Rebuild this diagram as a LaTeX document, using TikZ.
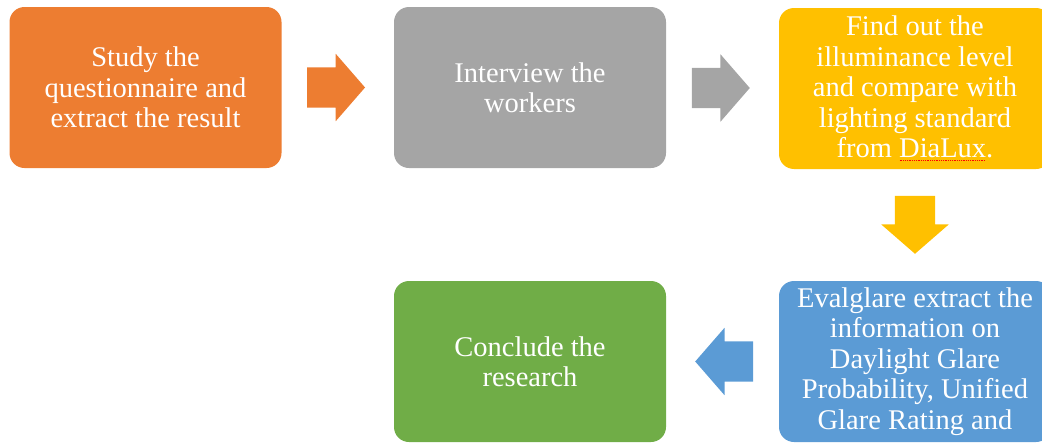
\documentclass[tikz,border=0pt]{standalone}
\usepackage{fontspec}
\setmainfont{Liberation Serif}
\usetikzlibrary{shapes.arrows,calc}
\definecolor{cOrange}{HTML}{ED7D31}
\definecolor{cGray}{HTML}{A5A5A5}
\definecolor{cYellow}{HTML}{FFC000}
\definecolor{cBlue}{HTML}{5B9BD5}
\definecolor{cGreen}{HTML}{70AD47}
\newsavebox\spellbox
\newcommand\spellmark[1]{\sbox\spellbox{#1}\leavevmode\rlap{\textcolor{red}{\leaders\hbox to 1.8pt{\hss\rule[-3pt]{1pt}{0.8pt}\hss}\hskip\wd\spellbox}}\usebox\spellbox}
\tikzset{
  box/.style={rounded corners=15pt, minimum width=272pt, minimum height=161pt,
    inner sep=0pt, text=white, align=center,
    font=\fontsize{28.5}{30.5}\selectfont},
  flow/.style={single arrow, draw=none, minimum height=58pt, minimum width=67pt,
    single arrow head extend=13.5pt, single arrow tip angle=98,
    inner xsep=0pt, inner ysep=20pt},
  vflow/.style={flow, inner xsep=20pt, inner ysep=0pt, shape border rotate=270}
}
\begin{document}
\begin{tikzpicture}[x=1pt,y=-1pt]
\useasboundingbox (0,0) rectangle (1042,442);
\node[box, fill=cOrange] (study) at (145.5,87.5) {Study the\\questionnaire and\\extract the result};
\node[box, fill=cGray] (interview) at (530,87.5) {Interview the\\workers};
\node[box, fill=cYellow] (find) at (915,88.5) {Find out the\\illuminance level\\and compare with\\lighting standard\\from \spellmark{DiaLux}.};
\node[box, fill=cBlue] (eval) at (915,361.5) {Evalglare extract the\\information on\\Daylight Glare\\Probability, Unified\\Glare Rating and};
\node[box, fill=cGreen] (conclude) at (530,361.5) {Conclude the\\research};
\node[flow, fill=cOrange, xshift=-10.5pt] (a1) at ($(study.east)!0.5!(interview.west)$) {};
\node[flow, fill=cGray, xshift=-10.5pt] (a2) at ($(interview.east)!0.5!(find.west)$) {};
\node[vflow, fill=cYellow, yshift=9pt] (a3) at ($(find.south)!0.5!(eval.north)$) {};
\node[flow, fill=cBlue, shape border rotate=180, xshift=10.5pt] (a4) at ($(eval.west)!0.5!(conclude.east)$) {};
\end{tikzpicture}
\end{document}
